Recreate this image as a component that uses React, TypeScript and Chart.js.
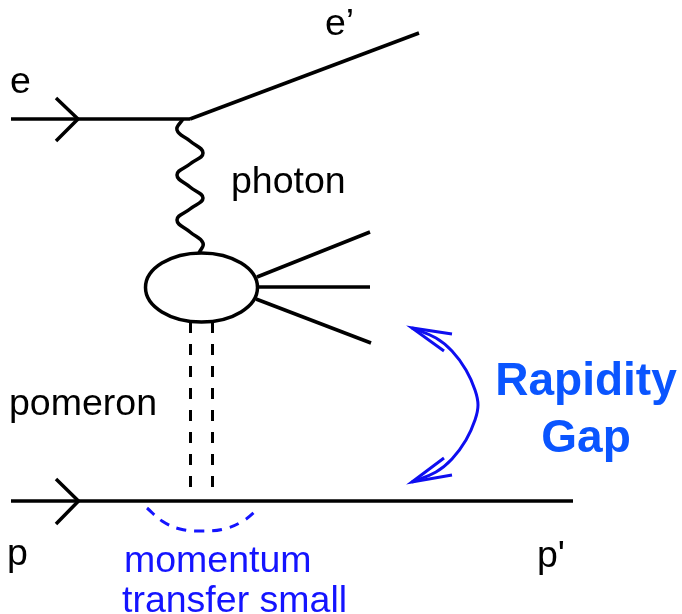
import React, { useEffect, useRef } from "react";
import { Chart, registerables } from "chart.js";

Chart.register(...registerables);

// ---- diagram data (coordinates in picture units, y grows downward) ----
const electronIn: number[][] = [[11, 119], [190, 119]];
const electronOut: number[][] = [[190, 119], [419, 33]];
const electronArrow: number[][] = [[56, 98], [78, 119], [56, 141]];
const photonWave: number[][] = [
  [183, 119], [177, 130], [190, 141], [203, 153], [190, 164], [177, 175],
  [190, 187], [203, 198], [190, 209], [177, 220], [190, 232], [203, 243], [199, 253],
];
const jetTop: number[][] = [[257, 277], [370, 232]];
const jetMid: number[][] = [[258, 287], [370, 287]];
const jetLow: number[][] = [[256, 299], [371, 343]];
const pomeronLeft: number[][] = [[190.5, 322], [190.5, 490]];
const pomeronRight: number[][] = [[212.5, 322], [212.5, 490]];
const protonLine: number[][] = [[11, 501], [573, 501]];
const protonArrow: number[][] = [[56, 479], [78.5, 501], [56, 524]];
const transferArc: number[][] = [[147, 508], [162, 521], [180, 529], [202, 531], [224, 529], [243, 521], [258, 509]];
const gapArc: number[][] = [
  [412, 328], [436, 338], [452, 351], [466, 370], [475, 390], [478, 405],
  [475, 420], [466, 440], [452, 459], [436, 472], [412, 482],
];
const gapHeadTop: number[][] = [[452, 334], [412, 328], [444, 351]];
const gapHeadBottom: number[][] = [[444, 458], [412, 482], [452, 475]];
const blobCenter: number[] = [201.5, 287.5];
const blobRadii: number[] = [56, 34.5];

const labelTexts: string[] = ["e", "e\u2019", "photon", "pomeron", "p", "p'", "momentum", "transfer small", "Rapidity", "Gap"];
const labelX: number[] = [10, 325, 231, 9, 7, 537, 124, 122, 586, 586];
const labelY: number[] = [93, 35, 193, 415, 565, 567, 572, 612, 395, 452];

// ---- styles ----
const BLACK = "#000000";
const BLUE = "#1414ff";
const ARC_BLUE = "#0e0ef0";
const GAP_BLUE = "#0a55ff";
const FONT = '"Liberation Sans", Arial, Helvetica, sans-serif';
const labelStyle: { color: string; font: string; align: CanvasTextAlign }[] = [
  { color: BLACK, font: `37.5px ${FONT}`, align: "left" },
  { color: BLACK, font: `37.5px ${FONT}`, align: "left" },
  { color: BLACK, font: `37.5px ${FONT}`, align: "left" },
  { color: BLACK, font: `37.5px ${FONT}`, align: "left" },
  { color: BLACK, font: `37.5px ${FONT}`, align: "left" },
  { color: BLACK, font: `37.5px ${FONT}`, align: "left" },
  { color: BLUE, font: `37.5px ${FONT}`, align: "left" },
  { color: BLUE, font: `37.5px ${FONT}`, align: "left" },
  { color: GAP_BLUE, font: `bold 46px ${FONT}`, align: "center" },
  { color: GAP_BLUE, font: `bold 46px ${FONT}`, align: "center" },
];

const toPts = (a: number[][]) => a.map(([x, y]) => ({ x, y }));

function lineDs(points: number[][], color: string, width: number, extra: any = {}) {
  return {
    data: toPts(points),
    showLine: true,
    borderColor: color,
    borderWidth: width,
    pointRadius: 0,
    pointHoverRadius: 0,
    fill: false,
    tension: 0,
    borderCapStyle: "butt",
    borderJoinStyle: "miter",
    ...extra,
  };
}

const diagramPlugin = {
  id: "diagram",
  afterDatasetsDraw(chart: any) {
    const { ctx } = chart;
    const xs = chart.scales.x;
    const ys = chart.scales.y;
    ctx.save();
    // hadronic blob
    const cx = xs.getPixelForValue(blobCenter[0]);
    const cy = ys.getPixelForValue(blobCenter[1]);
    const rx = Math.abs(xs.getPixelForValue(blobCenter[0] + blobRadii[0]) - cx);
    const ry = Math.abs(ys.getPixelForValue(blobCenter[1] + blobRadii[1]) - cy);
    ctx.beginPath();
    ctx.ellipse(cx, cy, rx, ry, 0, 0, Math.PI * 2);
    ctx.fillStyle = "#ffffff";
    ctx.fill();
    ctx.lineWidth = 3.5;
    ctx.strokeStyle = BLACK;
    ctx.stroke();
    // labels
    ctx.textBaseline = "alphabetic";
    labelTexts.forEach((t, i) => {
      const st = labelStyle[i];
      ctx.font = st.font;
      ctx.fillStyle = st.color;
      ctx.textAlign = st.align;
      ctx.fillText(t, xs.getPixelForValue(labelX[i]), ys.getPixelForValue(labelY[i]));
    });
    ctx.restore();
  },
};

export default function App() {
  const ref = useRef<HTMLCanvasElement | null>(null);
  useEffect(() => {
    document.body.style.margin = "0";
    document.body.style.background = "#ffffff";
    if (!ref.current) return;
    const chart = new Chart(ref.current, {
      type: "scatter",
      data: {
        datasets: [
          lineDs(electronIn, BLACK, 3.5),
          lineDs(electronOut, BLACK, 3.5),
          lineDs(electronArrow, BLACK, 3.5),
          lineDs(photonWave, BLACK, 3.5, { tension: 0.45 }),
          lineDs(jetTop, BLACK, 3.5),
          lineDs(jetMid, BLACK, 3.5),
          lineDs(jetLow, BLACK, 3.5),
          lineDs(pomeronLeft, BLACK, 3, { borderDash: [11, 11] }),
          lineDs(pomeronRight, BLACK, 3, { borderDash: [11, 11] }),
          lineDs(protonLine, BLACK, 3.5),
          lineDs(protonArrow, BLACK, 3.5),
          lineDs(transferArc, BLUE, 3, { tension: 0.4, borderDash: [10, 8] }),
          lineDs(gapArc, ARC_BLUE, 3, { tension: 0.4 }),
          lineDs(gapHeadTop, ARC_BLUE, 3),
          lineDs(gapHeadBottom, ARC_BLUE, 3),
        ] as any,
      },
      options: {
        animation: false,
        responsive: false,
        devicePixelRatio: 1,
        layout: { padding: 0 },
        events: [],
        plugins: { legend: { display: false }, tooltip: { enabled: false } },
        scales: {
          x: { type: "linear", min: 0, max: 682, display: false },
          y: { type: "linear", min: 0, max: 614, reverse: true, display: false },
        },
      } as any,
      plugins: [diagramPlugin],
    });
    return () => chart.destroy();
  }, []);
  return <canvas ref={ref} width={682} height={614} style={{ display: "block" }} />;
}
